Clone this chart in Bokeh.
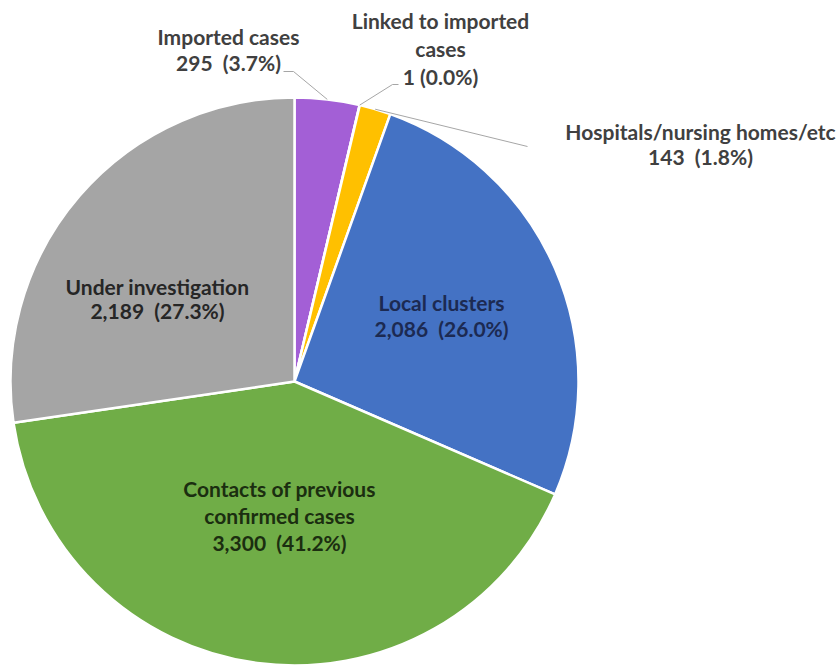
import math
from bokeh.plotting import figure
from bokeh.models import Range1d
from bokeh.core.properties import value
from bokeh.embed import file_html
from bokeh.resources import INLINE

# ---- data ----
categories = ["Imported cases", "Linked to imported\ncases", "Hospitals/nursing homes/etc",
              "Local clusters", "Contacts of previous\nconfirmed cases", "Under investigation"]
counts = [295, 1, 143, 2086, 3300, 2189]
colors = ["#A35FD6", "#FFFFFF", "#FFC000", "#4472C4", "#70AD47", "#A5A5A5"]
label_colors = ["#404040", "#404040", "#404040", "#1C2A52", "#1B2E10", "#262626"]
gaps = ["\u00a0 ", " ", "\u00a0 ", "\u00a0 ", "\u00a0 ", "\u00a0 "]

# ---- layout (screen pixels) ----
W, H = 840, 666
def X(px):
    return px
def Y(py):
    return H - py

cx, cy, R = X(294), Y(381), 284
label_pos = [(228, 49), (440, 48), (700, 143), (441, 315), (279, 515), (157, 298)]
label_lh = [1.02, 1.12, 1.0, 1.02, 1.07, 0.98]

p = figure(width=W, height=H, x_range=Range1d(0, W), y_range=Range1d(0, H),
           output_backend="svg", toolbar_location=None, min_border=0)
p.axis.visible = False
p.grid.visible = False
p.outline_line_color = None
p.background_fill_color = "white"
p.border_fill_color = "white"

total = sum(counts)
cum = 0
starts, ends, mids = [], [], []
for v in counts:
    a0 = math.pi / 2 - 2 * math.pi * cum / total
    cum += v
    a1 = math.pi / 2 - 2 * math.pi * cum / total
    starts.append(a0)
    ends.append(a1)
    mids.append((a0 + a1) / 2)

p.wedge(x=[cx] * len(counts), y=[cy] * len(counts), radius=R,
        start_angle=starts, end_angle=ends, direction="clock",
        fill_color=colors, line_color="white", line_width=2.5)

# leader lines for outer labels
edge = [(cx + R * math.cos(m), cy + R * math.sin(m)) for m in mids]
leaders = {
    0: [(293, 71), (283, 71)],
    1: [(392, 84), (398, 84)],
    2: [(527, 146)],
}
for i, pts in leaders.items():
    xs = [edge[i][0]] + [X(a) for a, b in pts]
    ys = [edge[i][1]] + [Y(b) for a, b in pts]
    p.line(xs, ys, line_color="#A6A6A6", line_width=1)

texts = []
for name, v, g in zip(categories, counts, gaps):
    texts.append(f"{name}\n{v:,}{g}({100 * v / total:.1f}%)")

for i, t in enumerate(texts):
    lx, ly = label_pos[i]
    p.text(x=[X(lx)], y=[Y(ly)], text=[t], text_align="center", text_baseline="middle",
           text_font=value("Lato"), text_font_style="bold", text_font_size="21px",
           text_color=label_colors[i], text_line_height=label_lh[i])

open("out.html", "w").write(file_html(p, INLINE))
